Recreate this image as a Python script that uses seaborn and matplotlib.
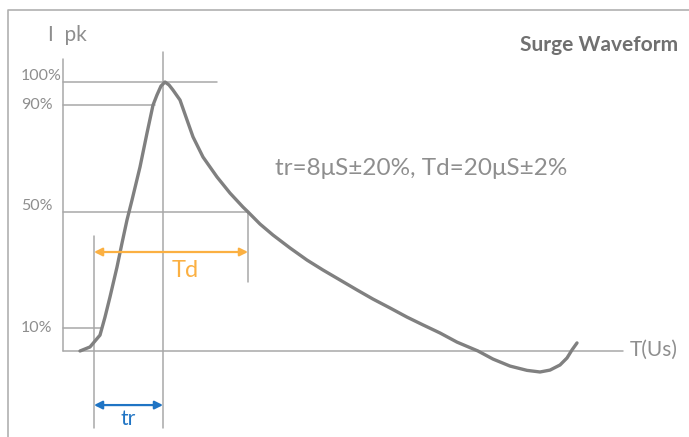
"""Surge waveform schematic (rise time / decay time)."""

import matplotlib

matplotlib.use("Agg")
import matplotlib.pyplot as plt
import pandas as pd
import seaborn as sns


# Curve: time (arbitrary units) and current (% of peak).
wave_t = [1.7, 2.7, 3.7, 4.2, 4.7, 5.4, 5.9, 6.4, 6.9, 7.7, 8.4, 9.0, 9.4, 9.8, 10.2,
          10.6, 11.0, 11.7, 12.4, 13.0, 14.0, 15.4, 16.7, 18.0, 18.5, 19.7, 21.0,
          22.7, 24.4, 26.0, 27.7, 29.4, 31.0, 32.7, 34.4, 36.0, 37.7, 39.4, 41.5,
          43.0, 44.7, 46.4, 47.7, 48.7, 49.7, 50.4, 50.9, 51.4]
wave_pct = [0.0, 1.5, 5.9, 12.6, 20.1, 31.2, 40.1, 48.7, 56.1, 68.4, 81.0, 91.4, 95.2,
            98.5, 100.0, 98.9, 97.0, 93.3, 85.9, 79.6, 72.1, 64.7, 58.7, 53.5, 51.7,
            47.2, 43.1, 38.3, 33.8, 30.1, 26.4, 22.7, 19.3, 16.0, 12.6, 9.7, 6.7,
            3.3, 0.0, -3.0, -5.6, -7.2, -7.8, -7.1, -5.2, -2.6, 0.4, 3.0]

# Reference levels: drawn height, label, where the guide stops.
level_pct = [100.0, 91.6, 51.5, 8.6]
level_labels = ["100%", "90%", "50%", "10%"]
level_label_pct = [102.2, 91.4, 53.9, 8.6]
level_end_t = [15.4, 9.2, 18.5, 3.9]

# Timing markers.
tr_start = 3.1
tr_end = 10.0
td_end = 18.5
axis_end_t = 56.0
axis_top_pct = 108.6

spec_text = "tr=8μS±20%, Td=20μS±2%"
title_text = "Surge Waveform"

curve_color = "#808080"
guide_color = "#a8a8a8"
text_color = "#8e8e8e"
orange = "#fbb042"
blue = "#1f74c4"

sns.set_theme(style="white")
plt.rcParams["font.family"] = ["Lato", "DejaVu Sans"]

fig = plt.figure(figsize=(6.89, 4.37), dpi=100)
ax = fig.add_axes([0, 0, 1, 1])
ax.set_xlim(-6.3, 62.6)
ax.set_ylim(-31.97, 130.48)

# Outer frame (top and left only).
ax.plot([8 / 689, 8 / 689, 1], [0, 1 - 10 / 437, 1 - 10 / 437],
        transform=ax.transAxes, color="#b0b0b0", lw=1.2, clip_on=False)

# Axes of the schematic.
ax.plot([0, 0], [0, axis_top_pct], color=guide_color, lw=1.1)
ax.plot([0, axis_end_t], [0, 0], color=guide_color, lw=1.1)

# Level guides and labels.
for pct, lab, lab_pct, end in zip(level_pct, level_labels, level_label_pct, level_end_t):
    ax.plot([0, end], [pct, pct], color=guide_color, lw=1.1)
    ax.text(-4.2, lab_pct, lab, ha="left", va="center", fontsize=11.5, color=text_color)

# Vertical markers.
ax.plot([tr_start, tr_start], [42.8, -28.6], color=guide_color, lw=1.1)
ax.plot([tr_end, tr_end], [111.2, -28.6], color=guide_color, lw=1.1)
ax.plot([td_end, td_end], [51.5, 25.7], color=guide_color, lw=1.1)

# Waveform.
wave = pd.DataFrame({"t": wave_t, "pct": wave_pct})
sns.lineplot(data=wave, x="t", y="pct", sort=False, color=curve_color, lw=2.4, ax=ax,
             solid_joinstyle="round", solid_capstyle="round")
ax.axis("off")

# Td and tr arrows.
ax.annotate("", xy=(td_end, 36.8), xytext=(tr_start, 36.8),
            arrowprops=dict(arrowstyle="<|-|>", color=orange, lw=1.6,
                            mutation_scale=12, shrinkA=0, shrinkB=0))
ax.text((tr_start + td_end) / 2 + 1.4, 30.1, "Td", ha="center", va="center",
        fontsize=17, color=orange)
ax.annotate("", xy=(tr_end, -20.1), xytext=(tr_start, -20.1),
            arrowprops=dict(arrowstyle="<|-|>", color=blue, lw=1.6,
                            mutation_scale=12, shrinkA=0, shrinkB=0))
ax.text((tr_start + tr_end) / 2, -25.3, "tr", ha="center", va="center",
        fontsize=15, color=blue)

# Annotations.
ax.text(-1.5, 117.5, "I  pk", ha="left", va="center", fontsize=15, color=text_color)
ax.text(56.7, 0.4, "T(Us)", ha="left", va="center", fontsize=15, color=text_color)
ax.text(21.2, 67.7, spec_text, ha="left", va="center", fontsize=17.5, color=text_color)
ax.text(61.5, 113.8, title_text, ha="right", va="center", fontsize=15,
        fontweight="bold", color="#707070")

plt.savefig("out.png", dpi=100)
